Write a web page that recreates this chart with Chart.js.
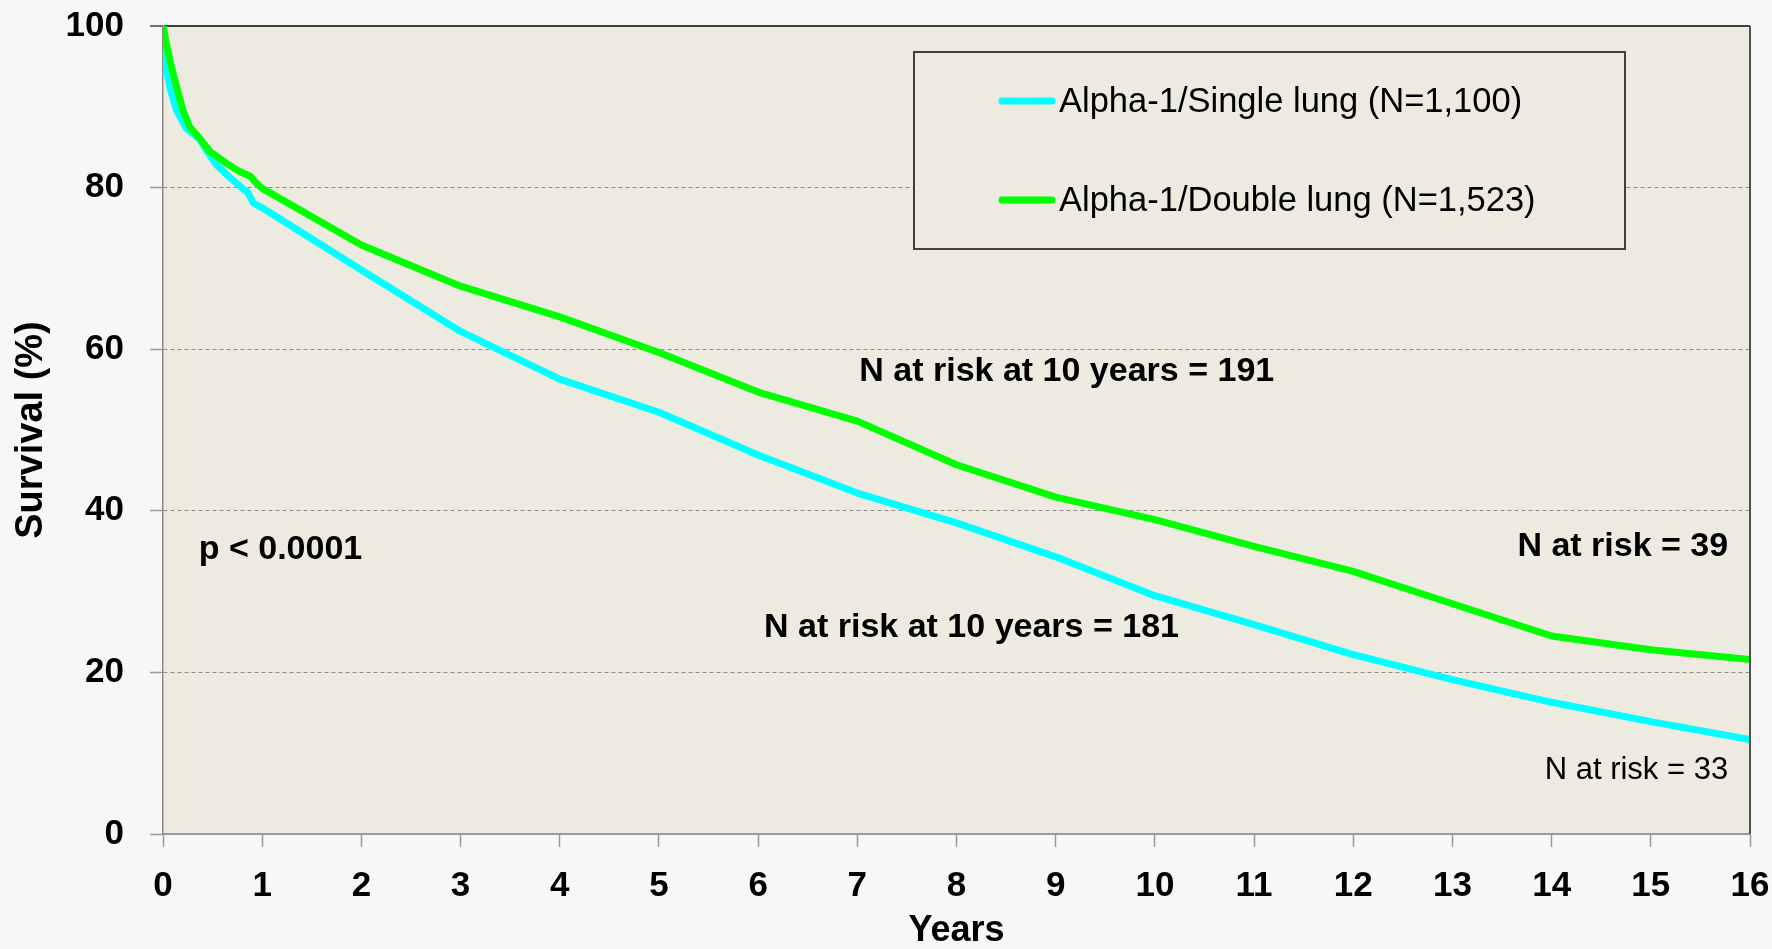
<!DOCTYPE html>
<html>
<head>
<meta charset="utf-8">
<script src="https://cdn.jsdelivr.net/npm/chart.js@4.4.0/dist/chart.umd.min.js"></script>
<style>
  html, body { margin: 0; padding: 0; background: #f7f7f7; }
  #wrap { width: 1772px; height: 949px; }
</style>
</head>
<body>
<div id="wrap"><canvas id="chart" width="1772" height="949"></canvas></div>
<script>
// =============================
// DATA
// =============================
const seriesLabels = ["Alpha-1/Single lung (N=1,100)", "Alpha-1/Double lung (N=1,523)"];

const singleYears    = [0, 0.005, 0.067, 0.135, 0.236, 0.37, 0.44, 0.54, 0.67, 0.81, 0.85, 0.91, 1, 2, 3, 4, 5, 6, 7, 8, 9, 10, 11, 12, 13, 14, 15, 16];
const singleSurvival = [100, 97, 92.5, 89.6, 87.3, 86.0, 84.6, 82.8, 81.3, 79.8, 79.5, 78.1, 77.5, 69.8, 62.2, 56.3, 52.2, 46.9, 42.2, 38.5, 34.3, 29.5, 25.9, 22.2, 19.1, 16.3, 13.9, 11.7];

const doubleYears    = [0, 0.05, 0.11, 0.2, 0.27, 0.37, 0.47, 0.64, 0.77, 0.88, 0.93, 1, 2, 3, 4, 5, 6, 7, 8, 9, 10, 11, 12, 13, 14, 15, 16];
const doubleSurvival = [100, 96.8, 93.7, 89.6, 87.5, 86.1, 84.5, 83.0, 82.0, 81.4, 80.7, 79.9, 72.9, 67.8, 64.0, 59.6, 54.7, 51.1, 45.7, 41.7, 38.9, 35.6, 32.5, 28.5, 24.5, 22.8, 21.6];

const xTicks = [0, 1, 2, 3, 4, 5, 6, 7, 8, 9, 10, 11, 12, 13, 14, 15, 16];
const yTicks = [0, 20, 40, 60, 80, 100];

const noteTexts = ["N at risk at 10 years = 191", "N at risk at 10 years = 181", "p < 0.0001", "N at risk = 39", "N at risk = 33"];

// where the notes sit, in axis units (years, %)
const notePlaces = [
    { x: 7.02, y: 56.1, align: "left",  font: "bold 34px 'Liberation Sans'" },
    { x: 6.06, y: 24.4, align: "left",  font: "bold 34px 'Liberation Sans'" },
    { x: 0.36, y: 34.0, align: "left",  font: "bold 34px 'Liberation Sans'" },
    { x: 15.78, y: 34.4, align: "right", font: "bold 34px 'Liberation Sans'" },
    { x: 15.78, y: 6.8, align: "right", font: "31px 'Liberation Sans'" }
];

const FONT = "'Liberation Sans', Arial, sans-serif";
const toPoints = (xs, ys) => xs.map((x, i) => ({ x: x, y: ys[i] }));

// =============================
// PLUGINS: backgrounds, frame, legend box, notes
// =============================
const backdrop = {
    id: "backdrop",
    beforeDraw(chart) {
        const { ctx, chartArea: a } = chart;
        ctx.save();
        ctx.fillStyle = "#f7f7f7";
        ctx.fillRect(0, 0, chart.width, chart.height);
        ctx.fillStyle = "#edebe0";
        ctx.fillRect(a.left, a.top, a.right - a.left, a.bottom - a.top);
        ctx.restore();
    },
    afterDatasetsDraw(chart) {
        const { ctx, chartArea: a } = chart;
        ctx.save();
        ctx.strokeStyle = "#505050";
        ctx.lineWidth = 2;
        ctx.beginPath();
        ctx.moveTo(a.right, a.top);
        ctx.lineTo(a.right, a.bottom);
        ctx.stroke();
        ctx.restore();
    }
};

const boxLegend = {
    id: "boxLegend",
    afterDraw(chart) {
        const { ctx, chartArea: a } = chart;
        const left = a.left + 751, top = a.top + 26, w = 711, h = 197;
        ctx.save();
        ctx.fillStyle = "#edebe0";
        ctx.fillRect(left, top, w, h);
        ctx.strokeStyle = "#404040";
        ctx.lineWidth = 2;
        ctx.strokeRect(left, top, w, h);

        const rows = [top + 49, top + 148];
        chart.data.datasets.forEach((ds, i) => {
            const y = rows[i];
            ctx.strokeStyle = ds.borderColor;
            ctx.lineWidth = 7;
            ctx.lineCap = "round";
            ctx.beginPath();
            ctx.moveTo(left + 88, y);
            ctx.lineTo(left + 138, y);
            ctx.stroke();
            ctx.fillStyle = "#000";
            ctx.font = "34.5px " + FONT;
            ctx.textAlign = "left";
            ctx.textBaseline = "middle";
            ctx.fillText(ds.label, left + 145, y + 1);
        });
        ctx.restore();
    }
};

const notes = {
    id: "notes",
    afterDraw(chart) {
        const { ctx, scales } = chart;
        ctx.save();
        ctx.fillStyle = "#000";
        ctx.textBaseline = "alphabetic";
        noteTexts.forEach((t, i) => {
            const p = notePlaces[i];
            ctx.font = p.font;
            ctx.textAlign = p.align;
            ctx.fillText(t, scales.x.getPixelForValue(p.x), scales.y.getPixelForValue(p.y));
        });
        ctx.restore();
    }
};

// =============================
// CHART
// =============================
new Chart(document.getElementById("chart"), {
    type: "line",
    data: {
        datasets: [
            {
                label: seriesLabels[0],
                data: toPoints(singleYears, singleSurvival),
                borderColor: "#00ffff",
                borderWidth: 7,
                order: 1
            },
            {
                label: seriesLabels[1],
                data: toPoints(doubleYears, doubleSurvival),
                borderColor: "#00ff00",
                borderWidth: 7,
                order: 0
            }
        ]
    },
    options: {
        responsive: false,
        animation: false,
        devicePixelRatio: 1,
        layout: { padding: { left: 0, top: 26, right: 22, bottom: 0 } },
        elements: {
            point: { radius: 0 },
            line: { tension: 0, borderJoinStyle: "round", fill: false }
        },
        plugins: {
            legend: { display: false },
            tooltip: { enabled: false }
        },
        scales: {
            x: {
                type: "linear",
                min: 0,
                max: 16,
                afterBuildTicks: s => { s.ticks = xTicks.map(v => ({ value: v })); },
                afterFit: s => { s.height = 115; s.paddingLeft = 0; s.paddingRight = 0; },
                grid: { drawOnChartArea: false, drawTicks: true, tickLength: 13, tickColor: "#9a9a9a", tickWidth: 1.5 },
                border: { color: "#9a9a9a", width: 2 },
                ticks: { color: "#000", padding: 18, font: { family: FONT, size: 35, weight: "bold" } },
                title: {
                    display: true,
                    text: "Years",
                    color: "#000",
                    padding: { top: 0, bottom: 0 },
                    font: { family: FONT, size: 36, weight: "bold", lineHeight: 1.0 }
                }
            },
            y: {
                min: 0,
                max: 100,
                afterBuildTicks: s => { s.ticks = yTicks.map(v => ({ value: v })); },
                afterFit: s => { s.width = 163; s.paddingTop = 0; s.paddingBottom = 0; },
                grid: {
                    tickLength: 13,
                    color: c => c.tick && c.tick.value === 100 ? "#404040" : (c.tick && c.tick.value === 0 ? "rgba(0,0,0,0)" : "#8c8c8c"),
                    lineWidth: c => c.tick && c.tick.value === 100 ? 2 : 1,
                    tickColor: c => c.tick && c.tick.value === 100 ? "#404040" : "#9a9a9a",
                    tickWidth: 1.5
                },
                border: {
                    color: "#8a8a8a",
                    width: 1.5,
                    dash: c => c.tick && (c.tick.value === 100 || c.tick.value === 0) ? [] : [4, 3]
                },
                ticks: { color: "#000", padding: 26, font: { family: FONT, size: 35, weight: "bold" } },
                title: {
                    display: true,
                    text: "Survival (%)",
                    color: "#000",
                    padding: { top: 9, bottom: 0 },
                    font: { family: FONT, size: 38, weight: "bold", lineHeight: 1.2 }
                }
            }
        }
    },
    plugins: [backdrop, boxLegend, notes]
});
</script>
</body>
</html>
